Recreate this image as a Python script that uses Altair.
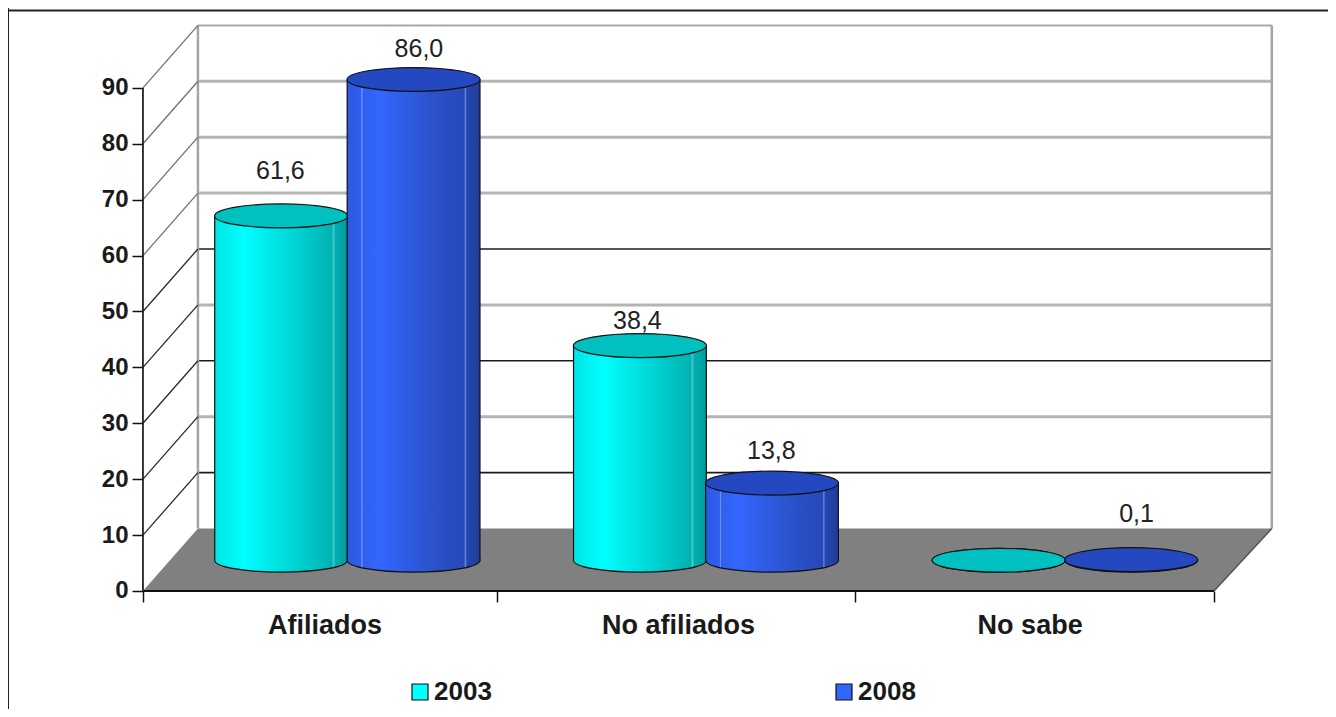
import altair as alt
import pandas as pd

categories = ["Afiliados", "No afiliados", "No sabe"]
series = ["2003", "2008"]
values_2003 = [61.6, 38.4, 0.0]
values_2008 = [86.0, 13.8, 0.1]
labels_2003 = ["61,6", "38,4", ""]
labels_2008 = ["86,0", "13,8", "0,1"]
y_ticks = [0, 10, 20, 30, 40, 50, 60, 70, 80, 90]

# layout, in the units of the two scales
X_DOMAIN = [-0.378, 3.3193]
Y_DOMAIN = [-21.11, 104.29]
X_TICKS = [0, 0.992, 1.994, 3]
BACK_L, BACK_R, DEPTH = 0.154, 3.162, 11.18
BASE = 5.5
HALF = 0.186
CENTRE = {"2003": [0.387, 1.392, 2.397], "2008": [0.758, 1.762, 2.768]}
LABEL_LIFT = {"2003": [8.0, 4.4, 0], "2008": [5.5, 5.8, 8.1]}
LABEL_X = {"2003": [0.385, 1.385, 0], "2008": [0.773, 1.76, 2.783]}
CAT_LABEL_X = [0.51, 1.50, 2.485]
CAT_LABEL_Y = -6.2
FONT = "Liberation Sans"
ELLIPSE = "M-1,0A1,0.18,0,1,1,1,0A1,0.18,0,1,1,-1,0Z"
ELLIPSE_SIZE = 133 ** 2


def grad(stops):
    return alt.LinearGradient(
        gradient="linear", x1=0, x2=1, y1=0, y2=0,
        stops=[alt.GradientStop(color=c, offset=o) for o, c in stops],
    )


FILL = {
    "2003": grad([(0, "#00e4e4"), (0.22, "#00ffff"), (0.6, "#00d4d4"),
                  (0.88, "#00b2b2"), (0.895, "#40c8c8"), (0.91, "#00aeae"), (1, "#009c9c")]),
    "2008": grad([(0, "#2c58e0"), (0.105, "#3060f0"), (0.11, "#7f9cf8"), (0.12, "#3060f0"),
                  (0.25, "#3366ff"), (0.6, "#2c54d0"), (0.88, "#2748b8"),
                  (0.89, "#6f88d8"), (0.9, "#2646b4"), (1, "#1e3c96")]),
}
TOP = {"2003": "#00c0c0", "2008": "#2448c0"}
LEGEND = {"2003": "#00ffff", "2008": "#3366ff"}

x_scale = alt.Scale(domain=X_DOMAIN, nice=False, zero=False)
y_scale = alt.Scale(domain=Y_DOMAIN, nice=False, zero=False)
x_axis = alt.Axis(
    values=X_TICKS, labels=False, domain=False, grid=False, offset=-118,
    tickSize=11, tickColor="#111111", tickWidth=1.5)
y_axis = alt.Axis(
    values=y_ticks, domain=False, grid=False, offset=-135,
    tickSize=11, tickColor="#111111", tickWidth=1.5, labelPadding=4,
    labelFont=FONT, labelFontSize=24, labelFontWeight="bold", labelColor="#1a1a1a")


def xe(field="x"):
    return alt.X(f"{field}:Q", scale=x_scale, axis=x_axis, title=None)


def ye(field="y"):
    return alt.Y(f"{field}:Q", scale=y_scale, axis=y_axis, title=None)


def seg(rows, color, width):
    df = pd.DataFrame(rows, columns=["x", "x2", "y", "y2"])
    return alt.Chart(df).mark_rule(color=color, strokeWidth=width).encode(
        x=xe(), x2="x2:Q", y=ye(), y2="y2:Q")


layers = []

# page frame
layers.append(seg([[X_DOMAIN[0], X_DOMAIN[1], 103.85, 103.85]], "#222222", 2))
layers.append(seg([[X_DOMAIN[0], X_DOMAIN[0], Y_DOMAIN[0], Y_DOMAIN[1]]], "#222222", 2))

# back wall lines
gray_levels = [20, 40, 60, 70, 80]
black_levels = [10, 30, 50]
layers.append(seg([[BACK_L, BACK_R, v + DEPTH, v + DEPTH] for v in gray_levels], "#b4b4b4", 3))
layers.append(seg([[BACK_L, BACK_R, v + DEPTH, v + DEPTH] for v in black_levels], "#1c1c1c", 1.6))
layers.append(seg([[BACK_L, BACK_R, 90 + DEPTH, 90 + DEPTH]], "#a8a8a8", 2))
layers.append(seg([[BACK_L, BACK_L, DEPTH, 90 + DEPTH], [BACK_R, BACK_R, DEPTH, 90 + DEPTH]], "#a4a4a4", 2.5))
# side wall diagonals
layers.append(seg([[0, BACK_L, v, v + DEPTH] for v in [60, 70, 80, 90]], "#707070", 1.3))
layers.append(seg([[0, BACK_L, v, v + DEPTH] for v in [10, 20, 30, 40, 50]], "#2a2a2a", 1.3))

# floor
floor = pd.DataFrame({
    "x": [0, BACK_L, 3.0, BACK_R],
    "y": [0, DEPTH, DEPTH, DEPTH],
    "y2": [0, 0, 0, DEPTH],
})
layers.append(alt.Chart(floor).mark_area(color="#808080", opacity=1, line=False).encode(
    x=xe(), y=ye(), y2="y2:Q"))
layers.append(seg([[3.0, BACK_R, 0, DEPTH]], "#555555", 1.5))
layers.append(seg([[0, 3.0, 0, 0]], "#111111", 2))
layers.append(seg([[0, 0, 0, 90]], "#222222", 1.8))

# hidden marks behind the first cylinders: they carry the legend
legend_df = pd.DataFrame({"x": [0.385, 0.758], "y": [20.0, 20.0], "year": series})
layers.append(
    alt.Chart(legend_df).mark_square(size=16, opacity=1).encode(
        x=xe(), y=ye(),
        fill=alt.Fill("year:N", scale=alt.Scale(domain=series, range=[LEGEND[s] for s in series]),
                      legend=alt.Legend(
                          title=None, orient="none", legendX=399, legendY=671, direction="horizontal",
                          columns=2, columnPadding=339, symbolType="square", symbolSize=256,
                          symbolStrokeColor="#111111", symbolStrokeWidth=1.2, symbolOpacity=1,
                          labelFont=FONT, labelFontSize=26, labelFontWeight="bold",
                          labelColor="#1a1a1a", labelOffset=1, labelLimit=200)),
    )
)

# cylinders
for s, vals in zip(series, [values_2003, values_2008]):
    cyl = pd.DataFrame({
        "x": [c - HALF for c in CENTRE[s]],
        "x2": [c + HALF for c in CENTRE[s]],
        "xc": CENTRE[s],
        "y": [BASE + v for v in vals],
        "y2": [BASE] * 3,
    })
    bottom = alt.Chart(cyl).mark_point(
        shape=ELLIPSE, size=ELLIPSE_SIZE, filled=True, fill=FILL[s], stroke="#111111",
        strokeWidth=1.2, opacity=1).encode(x=xe("xc"), y=ye("y2"))
    body = alt.Chart(cyl).mark_rect(fill=FILL[s], opacity=1).encode(x=xe(), x2="x2:Q", y=ye(), y2="y2:Q")
    left = alt.Chart(cyl).mark_rule(color="#111111", strokeWidth=1.2).encode(x=xe(), y=ye(), y2="y2:Q")
    right = alt.Chart(cyl).mark_rule(color="#111111", strokeWidth=1.2).encode(
        x=xe("x2"), y=ye(), y2="y2:Q")
    top = alt.Chart(cyl).mark_point(
        shape=ELLIPSE, size=ELLIPSE_SIZE, filled=True, fill=TOP[s], stroke="#111111",
        strokeWidth=1.2, opacity=1).encode(x=xe("xc"), y=ye())
    layers += [bottom, body, left, right, top]

# value labels
for s, vals, labs in zip(series, [values_2003, values_2008], [labels_2003, labels_2008]):
    rows = [
        {"x": lx, "y": BASE + v + lift, "t": t}
        for v, t, lx, lift in zip(vals, labs, LABEL_X[s], LABEL_LIFT[s]) if t
    ]
    layers.append(alt.Chart(pd.DataFrame(rows)).mark_text(
        font=FONT, fontSize=25, color="#222222", align="center", baseline="middle"
    ).encode(x=xe(), y=ye(), text="t:N"))

# category labels
cat_df = pd.DataFrame({"x": CAT_LABEL_X, "y": [CAT_LABEL_Y] * 3, "t": categories})
layers.append(alt.Chart(cat_df).mark_text(
    font=FONT, fontSize=27, fontWeight="bold", color="#1a1a1a", align="center", baseline="middle"
).encode(x=xe(), y=ye(), text="t:N"))

chart = alt.layer(*layers).properties(
    width=1320, height=701, padding=0, background="white",
    autosize=alt.AutoSizeParams(type="none"),
).configure_view(stroke=None)

chart.save("out.html", embed_options={"renderer": "svg", "actions": False})
